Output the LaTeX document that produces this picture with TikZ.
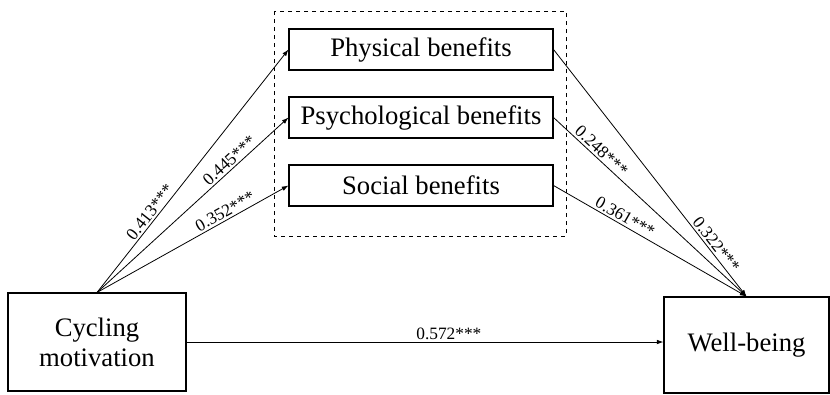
\documentclass[tikz,border=0pt]{standalone}
\usepackage{fontspec}
\setmainfont{Liberation Serif}
\usetikzlibrary{arrows.meta}

\tikzset{every picture/.style={line width=0.75pt}}
\tikzset{
  varbox/.style={draw, rectangle, inner sep=0pt, line width=0.8pt, align=center,
    font=\fontsize{20}{22.5}\selectfont},
  medbox/.style={varbox, minimum width=198pt, minimum height=30.75pt},
  path/.style={-{Latex[length=5pt,width=3.5pt]}, line width=0.6pt},
  coef/.style={sloped, above, inner sep=1.5pt, font=\fontsize{13}{15}\selectfont}
}

\begin{document}
\begin{tikzpicture}[x=0.75pt,y=0.75pt]
\useasboundingbox (0,0) rectangle (830,-394);

%Shape: Rectangle (mediators group)
\draw [dashed, line width=0.7pt] (274,-11) rectangle (566,-236);

% Text Node
\node [varbox, minimum width=133.5pt, minimum height=73.5pt] (cyc) at (97,-342) {Cycling\\motivation};
% Text Node
\node [varbox, minimum width=123.75pt, minimum height=72pt] (wb) at (746.5,-345) {Well-being};
% Text Node
\node [medbox] (phy) at (421,-49.5) {Physical benefits};
% Text Node
\node [medbox] (psy) at (421,-117.5) {Psychological benefits};
% Text Node
\node [medbox] (soc) at (421,-185.5) {Social benefits};

%Straight Lines
\draw [path] (cyc.north) -- node [coef, pos=0.31] {0.413***} (phy.west);
\draw [path] (cyc.north) -- node [coef, pos=0.72] {0.445***} (psy.west);
\draw [path] (cyc.north) -- node [coef, pos=0.69] {0.352***} (soc.west);
%Straight Lines
\draw [path] (phy.east) -- node [coef, pos=0.81] {0.322***} (wb.north);
\draw [path] (psy.east) -- node [coef, pos=0.22] {0.248***} (wb.north);
\draw [path] (soc.east) -- node [coef, pos=0.35] {0.361***} (wb.north);
%Straight Lines
\draw [path] (cyc.east) -- node [coef, pos=0.55] {0.572***} (cyc.east -| wb.west);

\end{tikzpicture}
\end{document}
